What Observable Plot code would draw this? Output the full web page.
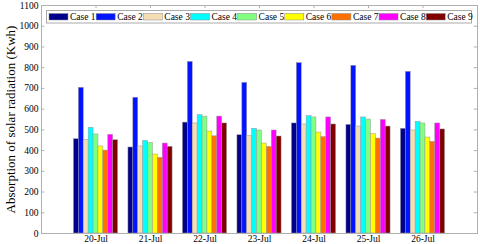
<!DOCTYPE html>
<html><head><meta charset="utf-8">
<script src="https://cdn.jsdelivr.net/npm/d3@7"></script>
<script src="https://cdn.jsdelivr.net/npm/@observablehq/plot@0.6"></script>
<style>
body{margin:0;background:#fff}
#wrap{position:relative;width:480px;height:244px;overflow:hidden}
</style></head>
<body><div id="wrap"></div>
<script>
const days = ["20-Jul","21-Jul","22-Jul","23-Jul","24-Jul","25-Jul","26-Jul"];
const cases = ["Case 1","Case 2","Case 3","Case 4","Case 5","Case 6","Case 7","Case 8","Case 9"];
const colors = ["#00008c","#0014ff","#f5deb3","#00ffff","#80ff80","#ffff00","#ff7000","#ff00ff","#800000"];
const case1 = [455,415,535,474,531,524,505];
const case2 = [703,655,828,727,822,809,780];
const case3 = [452,420,531,471,526,516,497];
const case4 = [510,447,571,505,566,560,539];
const case5 = [478,437,564,497,560,550,531];
const case6 = [420,381,492,434,487,479,463];
const case7 = [400,365,469,418,465,458,442];
const case8 = [476,434,564,497,560,548,531];
const case9 = [450,418,531,468,526,516,502];
const yTicks = [0,100,200,300,400,500,600,700,800,900,1000,1100];
const yTitle = "Absorption of solar radiation (Kwh)";

const series = [case1,case2,case3,case4,case5,case6,case7,case8,case9];
const table = [];
series.forEach((s, ci) => s.forEach((v, di) => table.push({ci, di, v, color: colors[ci]})));
const bw = 0.09;
const pos = days.map((d, i) => i + 1);
const FONT = "'Liberation Serif', 'Times New Roman', serif";

const plot = Plot.plot({
  width: 480, height: 244,
  marginLeft: 41, marginRight: 3, marginTop: 5, marginBottom: 11,
  style: {fontFamily: FONT, fontSize: "9.5px", color: "#000", background: "#fff"},
  x: {domain: [0, 8]},
  y: {domain: [0, 1100]},
  marks: [
    Plot.rectY(table, {
      x1: d => d.di + 1 + (d.ci - 4.5) * bw,
      x2: d => d.di + 1 + (d.ci - 3.5) * bw,
      y: "v", fill: "color", stroke: "#999", strokeWidth: 0.5
    }),
    Plot.frame({stroke: "#b0b0b0"}),
    Plot.ruleY(yTicks, {y: d => d, x1: 0, x2: 0.06, stroke: "#b0b0b0"}),
    Plot.ruleY(yTicks, {y: d => d, x1: 7.94, x2: 8, stroke: "#b0b0b0"}),
    Plot.ruleX(pos, {x: d => d, y1: 1100, y2: 1085, stroke: "#b0b0b0"}),
    Plot.axisX(pos, {tickSize: 0, tickPadding: 2, tickFormat: d => days[d - 1], label: null, fill: "#000"}),
    Plot.axisY(yTicks, {tickSize: 0, tickPadding: 3, tickFormat: d => String(d), label: null, fill: "#000"}),
    Plot.text([yTitle], {frameAnchor: "left", textAnchor: "middle", rotate: -90, dx: -31, fontSize: 13, fill: "#000"})
  ]
});
document.getElementById("wrap").appendChild(plot);

// legend inside the plot frame
const svg = d3.select(plot);
const g = svg.append("g").attr("font-family", FONT).attr("font-size", 9.5).attr("text-anchor", "start");
g.append("rect").attr("x", 46.5).attr("y", 10.5).attr("width", 425).attr("height", 12.5)
  .attr("fill", "#fff").attr("stroke", "#aaa");
cases.forEach((c, i) => {
  const x0 = 49 + i * 47.15;
  g.append("rect").attr("x", x0).attr("y", 13.5).attr("width", 19).attr("height", 6.5)
    .attr("fill", colors[i]).attr("stroke", "#888").attr("stroke-width", 0.5);
  g.append("text").attr("x", x0 + 21).attr("y", 20.3).attr("fill", "#000").attr("text-anchor", "start").text(c);
});
</script>
</body></html>
